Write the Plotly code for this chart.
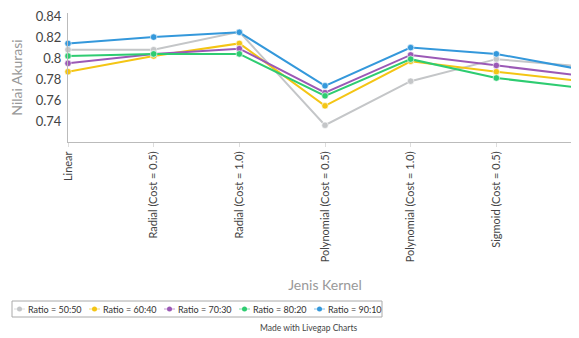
import plotly.graph_objects as go

categories = ["Linear", "Radial (Cost = 0.5)", "Radial (Cost = 1.0)",
              "Polynomial (Cost = 0.5)", "Polynomial (Cost = 1.0)",
              "Sigmoid (Cost = 0.5)", "Sigmoid (Cost = 1.0)"]
ratio_50_50 = [0.808, 0.808, 0.825, 0.736, 0.778, 0.799, 0.792]
ratio_60_40 = [0.787, 0.802, 0.814, 0.7545, 0.797, 0.787, 0.778]
ratio_70_30 = [0.795, 0.804, 0.809, 0.767, 0.803, 0.793, 0.783]
ratio_80_20 = [0.802, 0.804, 0.804, 0.764, 0.799, 0.781, 0.7715]
ratio_90_10 = [0.814, 0.820, 0.8246, 0.7736, 0.810, 0.804, 0.789]
series_names = ["Ratio = 50:50", "Ratio = 60:40", "Ratio = 70:30", "Ratio = 80:20", "Ratio = 90:10"]
colors = ["#c4c6c8", "#f4c514", "#9b59b6", "#2ecc71", "#3498db"]
ytick_vals = [0.74, 0.76, 0.78, 0.80, 0.82, 0.84]
ytick_text = ["0.74", "0.76", "0.78", "0.8", "0.82", "0.84"]

FONT = "Lato"
OFF = 8  # page body margin offset
W, H = 574, 330
L, R, T, B = 60, 0, 5, 196
PW, PH = W - L - R, H - T - B


def px(sx):
    return (sx - OFF - L) / PW


def py(sy):
    return (H - B - (sy - OFF)) / PH


fig = go.Figure()
all_series = [ratio_50_50, ratio_60_40, ratio_70_30, ratio_80_20, ratio_90_10]
for name, vals, col in zip(series_names, all_series, colors):
    fig.add_trace(go.Scatter(
        x=list(range(len(categories))), y=vals, name=name, mode="lines+markers",
        line=dict(color=col, width=2),
        marker=dict(color=col, size=6.5, line=dict(color="rgba(255,255,255,0.6)", width=1)),
        cliponaxis=False, showlegend=False,
    ))

# compact legend (box, symbols, labels)
shapes = []
annotations = []
leg_left, leg_right, leg_top, leg_bot = 12, 382, 301, 317
shapes.append(dict(type="rect", xref="paper", yref="paper",
                   x0=px(leg_left), x1=px(leg_right), y0=py(leg_bot), y1=py(leg_top),
                   line=dict(color="#aaa", width=1), fillcolor="white", layer="below"))
item_step = 75
for i, (name, col) in enumerate(zip(series_names, colors)):
    x0 = 14 + item_step * i
    yc = (leg_top + leg_bot) / 2
    shapes.append(dict(type="line", xref="paper", yref="paper",
                       x0=px(x0), x1=px(x0 + 11), y0=py(yc), y1=py(yc),
                       line=dict(color=col, width=1), opacity=0.6))
    shapes.append(dict(type="circle", xref="paper", yref="paper",
                       x0=px(x0 + 3), x1=px(x0 + 8), y0=py(yc + 2.5), y1=py(yc - 2.5),
                       line=dict(color=col, width=0), fillcolor=col))
    annotations.append(dict(text=name, xref="paper", yref="paper",
                            x=px(x0 + 12), y=py(yc), xanchor="left", yanchor="middle",
                            showarrow=False, font=dict(size=9, color="#333")))

annotations.append(dict(text="Made with Livegap Charts", xref="paper", yref="paper",
                        x=px(308), y=py(328), xanchor="center", yanchor="middle",
                        showarrow=False, font=dict(size=8.5, color="#444")))

fig.update_layout(
    width=W, height=H,
    margin=dict(l=L, r=R, t=T, b=B),
    paper_bgcolor="white", plot_bgcolor="white",
    font=dict(family=FONT, size=11, color="#444"),
    showlegend=False,
    xaxis=dict(
        range=[0, 6], tickmode="array", tickvals=list(range(len(categories))),
        ticktext=categories, tickangle=-90, showgrid=False, zeroline=False,
        showline=True, linecolor="#bbb", linewidth=1, automargin=False,
        ticks="outside", ticklen=4, tickcolor="#ddd", ticklabeloverflow="allow",
        tickfont=dict(size=11, color="#444"),
        title=dict(text="Jenis Kernel", font=dict(size=14, color="#999"), standoff=18),
    ),
    yaxis=dict(
        range=[0.72, 0.843], tickmode="array", tickvals=ytick_vals, ticktext=ytick_text,
        showgrid=False, zeroline=False, showline=True, linecolor="#bbb", linewidth=1,
        ticks="", ticklabelstandoff=3, automargin=False, ticklabeloverflow="allow",
        tickfont=dict(size=13, color="#444"),
        title=dict(text="Nilai Akurasi", font=dict(size=14, color="#999"), standoff=10),
    ),
    shapes=shapes,
    annotations=annotations,
)

fig.write_html("out.html")
